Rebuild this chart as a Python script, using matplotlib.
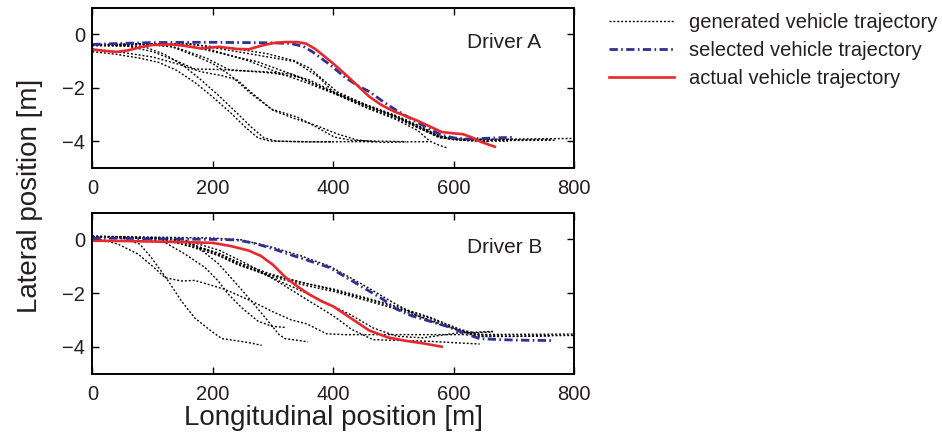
import numpy as np
import matplotlib.pyplot as plt

plt.rcParams['font.family'] = ['Liberation Sans', 'DejaVu Sans']

TEXT_COLOR = '#231f20'
RED = '#e8282d'
BLUE = '#2e3192'
DOTS = (0, (1.4, 1.4))
DASH_DOT = (3.0, 1.2, 0.6, 1.2)

# ---- Driver A ----------------------------------------------------------
actual_a_x = [0, 20, 40, 60, 80, 100, 130, 150, 180, 210, 240, 260, 280, 300,
              320, 340, 355, 370, 385, 400, 420, 440, 460, 480, 500, 520, 540,
              560, 580, 600, 615, 630, 645, 660, 668]
actual_a_y = [-0.57, -0.62, -0.66, -0.60, -0.48, -0.40, -0.38, -0.42, -0.53,
              -0.47, -0.55, -0.56, -0.43, -0.33, -0.29, -0.29, -0.35, -0.55,
              -0.82, -1.10, -1.50, -1.92, -2.34, -2.65, -2.88, -3.06, -3.24,
              -3.45, -3.66, -3.71, -3.74, -3.86, -4.03, -4.15, -4.21]

selected_a_x = [0, 50, 100, 150, 200, 250, 300, 330, 350, 365, 380, 395, 420,
                440, 460, 480, 500, 520, 540, 560, 580, 600, 620, 650, 680, 700]
selected_a_y = [-0.38, -0.34, -0.31, -0.30, -0.30, -0.31, -0.32, -0.35, -0.45,
                -0.65, -0.90, -1.15, -1.62, -1.92, -2.15, -2.48, -2.78, -3.05,
                -3.30, -3.55, -3.78, -3.88, -3.92, -3.90, -3.87, -3.86]

generated_a = [
    ([0, 40, 80, 110, 140, 170, 200, 230, 255, 275, 295, 340, 400],
     [-0.65, -0.75, -0.90, -1.05, -1.35, -1.80, -2.35, -2.95, -3.50, -3.88,
      -4.00, -4.02, -4.03]),
    ([0, 50, 90, 120, 150, 180, 210, 240, 265, 285, 305, 360, 440, 470],
     [-0.42, -0.42, -0.50, -0.75, -1.15, -1.70, -2.30, -2.95, -3.50, -3.88,
      -4.00, -4.03, -4.02, -4.03]),
    ([0, 50, 100, 140, 180, 215, 240, 265, 300, 335, 370, 405, 440, 480, 520,
      560],
     [-0.55, -0.68, -0.85, -1.10, -1.40, -1.55, -1.70, -2.20, -2.85, -3.15,
      -3.40, -3.72, -3.96, -4.05, -4.03, -4.02]),
    ([0, 80, 130, 170, 200, 230, 262, 297, 340, 370, 402, 430, 470, 520],
     [-0.40, -0.38, -0.45, -0.80, -1.10, -1.55, -2.20, -2.80, -3.10, -3.45,
      -3.85, -3.97, -4.00, -4.02]),
    ([0, 60, 100, 140, 170, 230, 297, 342, 402, 450, 505, 540, 576, 600, 650,
      720, 800],
     [-0.42, -0.45, -0.65, -1.00, -1.30, -1.33, -1.45, -1.60, -2.20, -2.65,
      -3.10, -3.45, -3.82, -3.92, -3.93, -3.92, -3.90]),
    ([0, 100, 140, 190, 229, 284, 328, 361, 406, 450, 505, 540, 576, 610, 680,
      770],
     [-0.40, -0.38, -0.50, -0.90, -1.35, -1.40, -1.48, -1.72, -2.20, -2.60,
      -3.05, -3.40, -3.80, -3.95, -3.98, -3.97]),
    ([0, 120, 173, 229, 273, 334, 372, 406, 450, 505, 540, 576, 600, 650, 690],
     [-0.40, -0.36, -0.50, -0.80, -1.02, -1.52, -1.90, -2.25, -2.70, -3.15,
      -3.50, -3.85, -3.95, -4.00, -4.00]),
    ([0, 150, 234, 289, 334, 361, 406, 450, 505, 540, 576, 620, 660],
     [-0.40, -0.36, -0.53, -0.72, -0.98, -1.27, -2.15, -2.60, -3.10, -3.48,
      -3.88, -3.98, -4.02]),
    ([0, 160, 253, 336, 375, 402, 450, 505, 540, 576, 620, 700, 760],
     [-0.38, -0.34, -0.70, -1.02, -1.59, -2.20, -2.63, -3.08, -3.42, -3.84,
      -3.93, -3.95, -3.94]),
    ([0, 140, 200, 260, 310, 360, 404, 460, 505, 540, 560, 575, 588],
     [-0.40, -0.38, -0.60, -1.00, -1.45, -1.85, -2.25, -2.80, -3.20, -3.60,
      -4.00, -4.15, -4.25]),
]

# ---- Driver B ----------------------------------------------------------
actual_b_x = [0, 50, 100, 150, 200, 230, 260, 280, 300, 320, 340, 360, 380,
              400, 430, 460, 490, 520, 550, 580]
actual_b_y = [-0.05, -0.06, -0.08, -0.10, -0.13, -0.25, -0.42, -0.62, -0.95,
              -1.40, -1.75, -2.05, -2.30, -2.50, -2.95, -3.40, -3.65, -3.78,
              -3.88, -4.00]

selected_b_x = [0, 50, 100, 150, 200, 240, 270, 300, 330, 360, 394, 420, 450,
                480, 505, 530, 560, 590, 615, 643, 680, 720, 762]
selected_b_y = [0.05, 0.04, 0.02, 0.01, 0.00, -0.02, -0.15, -0.35, -0.58,
                -0.80, -1.05, -1.40, -1.80, -2.20, -2.60, -2.85, -3.05, -3.25,
                -3.48, -3.70, -3.74, -3.76, -3.77]

generated_b = [
    ([0, 50, 79, 98, 126, 148, 170, 198, 215, 237, 260, 281],
     [0.10, 0.05, -0.18, -0.68, -1.55, -2.30, -2.93, -3.43, -3.70, -3.77,
      -3.85, -3.95]),
    ([0, 43, 76, 100, 121, 148, 170, 220, 264, 300, 330, 356, 389, 420, 500,
      600, 700, 800],
     [0.08, -0.18, -0.55, -1.00, -1.43, -1.55, -1.53, -1.86, -2.30, -2.70,
      -3.00, -3.15, -3.52, -3.55, -3.55, -3.55, -3.54, -3.53]),
    ([0, 80, 121, 154, 187, 209, 226, 248, 275, 298, 320],
     [0.10, 0.05, -0.12, -0.55, -1.05, -1.55, -2.05, -2.55, -3.05, -3.24,
      -3.28]),
    ([0, 120, 170, 209, 237, 264, 290, 310, 320, 340, 358],
     [0.10, 0.05, -0.20, -0.90, -1.60, -2.30, -3.00, -3.55, -3.70, -3.76,
      -3.82]),
    ([0, 100, 154, 209, 242, 297, 347, 402, 450, 505, 560, 615, 643, 700, 800],
     [0.10, 0.05, -0.20, -0.50, -0.85, -1.30, -1.60, -1.90, -2.20, -2.55,
      -2.93, -3.43, -3.60, -3.60, -3.58]),
    ([0, 110, 160, 209, 242, 297, 347, 402, 450, 505, 560, 615, 643, 700, 760],
     [0.10, 0.05, -0.25, -0.60, -0.95, -1.38, -1.68, -1.95, -2.25, -2.60,
      -3.00, -3.45, -3.62, -3.62, -3.60]),
    ([0, 130, 180, 220, 250, 300, 350, 400, 450, 505, 560, 610, 645, 680],
     [0.12, 0.03, -0.30, -0.70, -1.00, -1.35, -1.62, -1.85, -2.15, -2.50,
      -2.90, -3.35, -3.55, -3.56]),
    ([0, 140, 200, 250, 300, 350, 394, 428, 466, 505, 549, 605, 665],
     [0.10, 0.00, -0.45, -0.95, -1.45, -1.95, -2.43, -2.80, -3.30, -3.61,
      -3.67, -3.49, -3.43]),
    ([0, 150, 210, 260, 310, 360, 400, 430, 466, 520, 560, 600, 643],
     [0.10, 0.00, -0.40, -0.95, -1.60, -2.30, -2.85, -3.35, -3.74, -3.77,
      -3.80, -3.85, -3.90]),
    ([0, 200, 248, 300, 347, 394, 450, 505, 540, 577, 627, 665],
     [0.12, 0.05, -0.02, -0.30, -0.62, -1.00, -1.70, -2.43, -2.85, -3.18,
      -3.49, -3.45]),
]

X_TICKS = [0, 200, 400, 600, 800]
Y_TICKS = [-4, -2, 0]


def style_axes(ax, label):
    ax.set_xlim(0, 800)
    ax.set_ylim(-5, 1)
    ax.set_xticks(X_TICKS)
    ax.set_yticks(Y_TICKS)
    ax.set_yticklabels(['\u22124', '\u22122', '0'])
    ax.tick_params(direction='in', length=5, width=1.0, top=True, right=True,
                   labelsize=14.5, colors='black', labelcolor=TEXT_COLOR)
    ax.tick_params(axis='x', pad=8)
    ax.tick_params(axis='y', pad=5)
    for spine in ax.spines.values():
        spine.set_linewidth(1.4)
    ax.text(0.777, 0.75, label, transform=ax.transAxes, fontsize=15,
            color=TEXT_COLOR, ha='left', va='baseline')


def draw_panel(ax, generated, sel_x, sel_y, act_x, act_y, label):
    for gx, gy in generated:
        ax.plot(gx, gy, color='black', lw=1.0, ls=DOTS)
    ax.plot(sel_x, sel_y, color=BLUE, lw=2.0, dashes=DASH_DOT)
    ax.plot(act_x, act_y, color=RED, lw=1.9)
    style_axes(ax, label)


fig = plt.figure(figsize=(9.42, 4.41), dpi=100)
ax_a = fig.add_axes([0.098, 0.6195, 0.5117, 0.3633])
ax_b = fig.add_axes([0.098, 0.153, 0.5117, 0.365])

draw_panel(ax_a, generated_a, selected_a_x, selected_a_y,
           actual_a_x, actual_a_y, 'Driver A')
draw_panel(ax_b, generated_b, selected_b_x, selected_b_y,
           actual_b_x, actual_b_y, 'Driver B')

fig.text(0.032, 0.555, 'Lateral position [m]', rotation=90, ha='center',
         va='center', fontsize=20, color=TEXT_COLOR)
fig.text(0.3538, 0.052, 'Longitudinal position [m]', ha='center',
         va='center', fontsize=20, color=TEXT_COLOR)

handles = [
    plt.Line2D([], [], color='black', lw=1.0, ls=DOTS),
    plt.Line2D([], [], color=BLUE, lw=2.0, dashes=DASH_DOT),
    plt.Line2D([], [], color=RED, lw=1.9),
]
labels = ['generated vehicle trajectory', 'selected vehicle trajectory',
          'actual vehicle trajectory']
fig.legend(handles, labels, loc='upper left', bbox_to_anchor=(0.647, 0.97),
           frameon=False, fontsize=14.5, handlelength=3.2,
           handletextpad=0.75, labelspacing=0.45, borderpad=0,
           borderaxespad=0, labelcolor=TEXT_COLOR)

fig.savefig('out.png', dpi=100)
